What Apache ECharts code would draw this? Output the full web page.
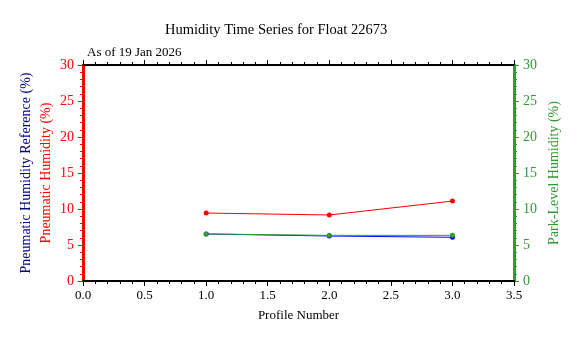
<!DOCTYPE html>
<html><head><meta charset="utf-8">
<script src="https://cdn.jsdelivr.net/npm/echarts@6/dist/echarts.min.js"></script>
<style>html,body{margin:0;padding:0;background:#fff}#c{width:577px;height:338px}</style>
</head><body><div id="c"></div>
<script>
const profiles = [1, 2, 3];
const pneumaticHumidity = [9.44, 9.17, 11.1];
const pneumaticReference = [6.53, 6.25, 6.07];
const parkHumidity = [6.53, 6.34, 6.34];
const titleText = 'Humidity Time Series for Float 22673';
const subText = 'As of 19 Jan 2026';

const F = 'Liberation Serif';
const pairs = (xs, ys) => xs.map((x, i) => [x, ys[i]]);
const chart = echarts.init(document.getElementById('c'));
const xBase = {min: 0, max: 3.5, interval: 0.5, splitLine: {show: false},
  axisLine: {onZero: false, lineStyle: {color: '#000', width: 2}},
  axisTick: {show: true, length: 5, lineStyle: {color: '#000'}},
  minorTick: {show: true, splitNumber: 5, length: 3, lineStyle: {color: '#000'}}};
const yBase = {min: 0, max: 30, interval: 5, splitLine: {show: false}, nameMoveOverlap: false,
  minorTick: {show: true, splitNumber: 5, length: 3}};
chart.setOption({
  animation: false,
  backgroundColor: '#fff',
  title: [
    {text: titleText, left: 160, top: 18, textStyle: {fontFamily: F, fontSize: 14.5, fontWeight: 'normal', color: '#000'}},
    {text: subText, left: 82, top: 41, textStyle: {fontFamily: F, fontSize: 13, fontWeight: 'normal', color: '#000'}}
  ],
  grid: {left: 83, right: 63, top: 65, bottom: 57, containLabel: false},
  xAxis: [
    Object.assign({}, xBase, {type: 'value', position: 'bottom', name: 'Profile Number', nameLocation: 'middle', nameGap: 28,
      nameMoveOverlap: false,
      nameTextStyle: {fontFamily: F, fontSize: 13, color: '#000'},
      axisLabel: {fontFamily: F, fontSize: 13, color: '#000', margin: 8, formatter: v => v.toFixed(1)}}),
    Object.assign({}, xBase, {type: 'value', position: 'top', axisLabel: {show: false}})
  ],
  yAxis: [
    Object.assign({}, yBase, {type: 'value', position: 'left', name: 'Pneumatic Humidity (%)', nameLocation: 'middle', nameGap: 30,
      nameTextStyle: {fontFamily: F, fontSize: 14, color: '#ff0000'},
      axisLine: {show: true, onZero: false, lineStyle: {color: '#ff0000', width: 3}},
      axisTick: {show: true, length: 5, lineStyle: {color: '#ff0000'}},
      minorTick: {show: true, splitNumber: 5, length: 3, lineStyle: {color: '#ff0000'}},
      axisLabel: {fontFamily: F, fontSize: 14, color: '#ff0000', margin: 9}}),
    Object.assign({}, yBase, {type: 'value', position: 'right', name: 'Park-Level Humidity (%)', nameLocation: 'middle', nameGap: 33,
      nameTextStyle: {fontFamily: F, fontSize: 14, color: '#339933'},
      axisLine: {show: true, onZero: false, lineStyle: {color: '#339933', width: 3}},
      axisTick: {show: true, length: 5, lineStyle: {color: '#339933'}},
      minorTick: {show: true, splitNumber: 5, length: 3, lineStyle: {color: '#339933'}},
      axisLabel: {fontFamily: F, fontSize: 14, color: '#339933', margin: 9}}),
    Object.assign({}, yBase, {type: 'value', position: 'left', offset: 19, name: 'Pneumatic Humidity Reference (%)', nameLocation: 'middle', nameGap: 31,
      nameTextStyle: {fontFamily: F, fontSize: 14, color: '#000080'},
      axisLine: {show: false, onZero: false}, axisTick: {show: false}, minorTick: {show: false}, axisLabel: {show: false}})
  ],
  series: [
    {type: 'line', name: 'Pneumatic Reference', xAxisIndex: 0, yAxisIndex: 0, data: pairs(profiles, pneumaticReference),
      symbol: 'circle', symbolSize: 5, lineStyle: {color: '#0000ff', width: 1}, itemStyle: {color: '#0000ff'}},
    {type: 'line', name: 'Park-Level', xAxisIndex: 0, yAxisIndex: 1, data: pairs(profiles, parkHumidity),
      symbol: 'circle', symbolSize: 5, lineStyle: {color: '#339933', width: 1}, itemStyle: {color: '#339933'}},
    {type: 'line', name: 'Pneumatic', xAxisIndex: 0, yAxisIndex: 0, data: pairs(profiles, pneumaticHumidity),
      symbol: 'circle', symbolSize: 5, lineStyle: {color: '#ff0000', width: 1}, itemStyle: {color: '#ff0000'}}
  ]
});
</script></body></html>
